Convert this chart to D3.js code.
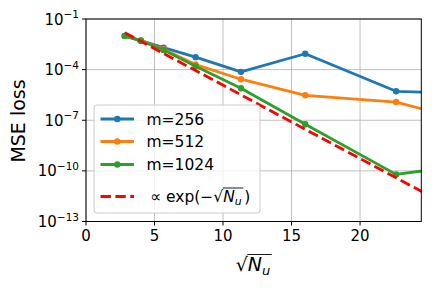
<!DOCTYPE html>
<html>
<head>
<meta charset="utf-8">
<script src="https://cdn.jsdelivr.net/npm/d3@7"></script>
<style>
  body { margin: 0; background: #fff; }
  text { font-family: "DejaVu Sans", sans-serif; fill: #000; }
</style>
</head>
<body>
<svg id="chart" width="432" height="288"></svg>
<script>
// sqrt(N_u) for N_u = 8, 16, 32, 64, 128, 256, 512, 1024
var sqrtNu = [2.83, 4, 5.66, 8, 11.31, 16, 22.63, 32];
// MSE loss
var m256 = [1.0e-2, 5.2e-3, 2.0e-3, 5.5e-4, 7.4e-5, 8.7e-4, 5.2e-6, 3.0e-6];
var m512 = [1.0e-2, 5.4e-3, 1.6e-3, 2.0e-4, 2.7e-5, 3.0e-6, 1.2e-6, 1.2e-8];
var m1024 = [1.0e-2, 5.1e-3, 1.45e-3, 1.6e-4, 7.9e-6, 5.8e-8, 6.2e-11, 6.0e-10];
var refLine = [1.55e-2, 4.8e-3, 9.1e-4, 8.9e-5, 3.2e-6, 2.9e-8, 3.9e-11, 3.3e-15];
var yTicks = [1e-13, 1e-10, 1e-7, 1e-4, 1e-1];
var yExp = ["\u221213", "\u221210", "\u22127", "\u22124", "\u22121"];
var xTicks = [0, 5, 10, 15, 20];

var series = [
    { name: "m=256", values: m256, color: "#1f77b4" },
    { name: "m=512", values: m512, color: "#ff7f0e" },
    { name: "m=1024", values: m1024, color: "#2ca02c" }
];

var svg = d3.select("#chart");
var pLeft = 86, pRight = 421.3, pTop = 19, pBottom = 221.5;

var x = d3.scaleLinear().domain([0, 24.47]).range([pLeft, pRight]);
var y = d3.scaleLog().domain([1e-13, 1e-1]).range([pBottom, pTop]);

svg.append("defs").append("clipPath").attr("id", "clip")
    .append("rect").attr("x", pLeft).attr("y", pTop)
    .attr("width", pRight - pLeft).attr("height", pBottom - pTop);

// grid
svg.selectAll(".gx").data(xTicks).enter().append("line")
    .attr("x1", function (d) { return x(d); }).attr("x2", function (d) { return x(d); })
    .attr("y1", pTop).attr("y2", pBottom)
    .style("stroke", "#b0b0b0").style("stroke-width", 0.8);
svg.selectAll(".gy").data(yTicks).enter().append("line")
    .attr("x1", pLeft).attr("x2", pRight)
    .attr("y1", function (d) { return y(d); }).attr("y2", function (d) { return y(d); })
    .style("stroke", "#b0b0b0").style("stroke-width", 0.8);

var plot = svg.append("g").attr("clip-path", "url(#clip)");
var line = d3.line()
    .x(function (d, i) { return x(sqrtNu[i]); })
    .y(function (d) { return y(d); });

series.forEach(function (s) {
    plot.append("path").datum(s.values)
        .attr("d", line)
        .style("fill", "none").style("stroke", s.color).style("stroke-width", 2.8)
        .style("stroke-linejoin", "round");
    plot.selectAll(null).data(s.values).enter().append("circle")
        .attr("cx", function (d, i) { return x(sqrtNu[i]); })
        .attr("cy", function (d) { return y(d); })
        .attr("r", 3.2)
        .style("fill", s.color);
});

plot.append("path").datum(refLine)
    .attr("d", line)
    .style("fill", "none").style("stroke", "#ff0000").style("stroke-width", 2.8)
    .style("stroke-dasharray", "10.4,4.5");

// frame
svg.append("rect").attr("x", pLeft).attr("y", pTop)
    .attr("width", pRight - pLeft).attr("height", pBottom - pTop)
    .style("fill", "none").style("stroke", "#000").style("stroke-width", 1);

// x ticks
svg.selectAll(".tx").data(xTicks).enter().append("line")
    .attr("x1", function (d) { return x(d); }).attr("x2", function (d) { return x(d); })
    .attr("y1", pBottom).attr("y2", pBottom + 4)
    .style("stroke", "#000").style("stroke-width", 1);
svg.selectAll(".lx").data(xTicks).enter().append("text")
    .attr("x", function (d) { return x(d); })
    .attr("y", pBottom + 19)
    .attr("text-anchor", "middle")
    .style("font-size", "15px")
    .text(function (d) { return d; });

// y ticks
svg.selectAll(".ty").data(yTicks).enter().append("line")
    .attr("x1", pLeft - 4).attr("x2", pLeft)
    .attr("y1", function (d) { return y(d); }).attr("y2", function (d) { return y(d); })
    .style("stroke", "#000").style("stroke-width", 1);
var yl = svg.selectAll(".ly").data(yTicks).enter().append("text")
    .attr("x", pLeft - 7)
    .attr("y", function (d) { return y(d) + 5.5; })
    .attr("text-anchor", "end")
    .style("font-size", "15px");
yl.append("tspan").text("10");
yl.append("tspan").attr("dy", -6.5).style("font-size", "10.5px")
    .text(function (d, i) { return yExp[i]; });

// axis labels
svg.append("text")
    .attr("transform", "translate(25,121) rotate(-90)")
    .attr("text-anchor", "middle")
    .style("font-size", "19px")
    .text("MSE loss");

var xl = svg.append("g");
var xs = xl.append("text").attr("x", 0).attr("y", 0).style("font-size", "19px").text("\u221a");
var sw = xs.node().getComputedTextLength();
var xn = xl.append("text").attr("x", sw).attr("y", 0).style("font-size", "19px")
    .style("font-style", "italic").text("N");
var nw = xn.node().getComputedTextLength();
var xu = xl.append("text").attr("x", sw + nw).attr("y", 4).style("font-size", "13px")
    .style("font-style", "italic").text("u");
var uw = xu.node().getComputedTextLength();
xl.append("line").attr("x1", sw - 0.5).attr("x2", sw + nw + uw + 1.5)
    .attr("y1", -16.5).attr("y2", -16.5)
    .style("stroke", "#000").style("stroke-width", 0.9);
var tw = sw + nw + uw;
xl.attr("transform", "translate(" + (253 - tw / 2) + ",271)");

// legend
var lg = svg.append("g");
lg.append("rect").attr("x", 94).attr("y", 105).attr("width", 166).attr("height", 108)
    .attr("rx", 3)
    .style("fill", "#fff").style("fill-opacity", 0.8)
    .style("stroke", "#cccccc").style("stroke-width", 1);
var rows = [119, 141.5, 164.5];
series.forEach(function (s, i) {
    lg.append("line").attr("x1", 100.5).attr("x2", 134).attr("y1", rows[i]).attr("y2", rows[i])
        .style("stroke", s.color).style("stroke-width", 2.8);
    lg.append("circle").attr("cx", 117.3).attr("cy", rows[i]).attr("r", 3.2).style("fill", s.color);
    lg.append("text").attr("x", 146.5).attr("y", rows[i] + 5.5)
        .style("font-size", "15.5px").text(s.name);
});
var ry = 196.5;
lg.append("line").attr("x1", 100.5).attr("x2", 134).attr("y1", ry).attr("y2", ry)
    .style("stroke", "#ff0000").style("stroke-width", 2.8)
    .style("stroke-dasharray", "10.4,4.5");
var lx = 150;
var t1 = lg.append("text").attr("x", lx).attr("y", ry + 5.5).style("font-size", "15.5px")
    .text("\u221d exp(\u2212\u221a");
lx += t1.node().getComputedTextLength();
var t2 = lg.append("text").attr("x", lx).attr("y", ry + 5.5).style("font-size", "15.5px")
    .style("font-style", "italic").text("N");
var ox = lx;
lx += t2.node().getComputedTextLength();
var t3 = lg.append("text").attr("x", lx).attr("y", ry + 8.5).style("font-size", "11px")
    .style("font-style", "italic").text("u");
lx += t3.node().getComputedTextLength() + 1.5;
lg.append("line").attr("x1", ox - 0.5).attr("x2", lx).attr("y1", ry - 8.5).attr("y2", ry - 8.5)
    .style("stroke", "#000").style("stroke-width", 0.9);
lg.append("text").attr("x", lx + 1).attr("y", ry + 5.5).style("font-size", "15.5px").text(")");
</script>
</body>
</html>
